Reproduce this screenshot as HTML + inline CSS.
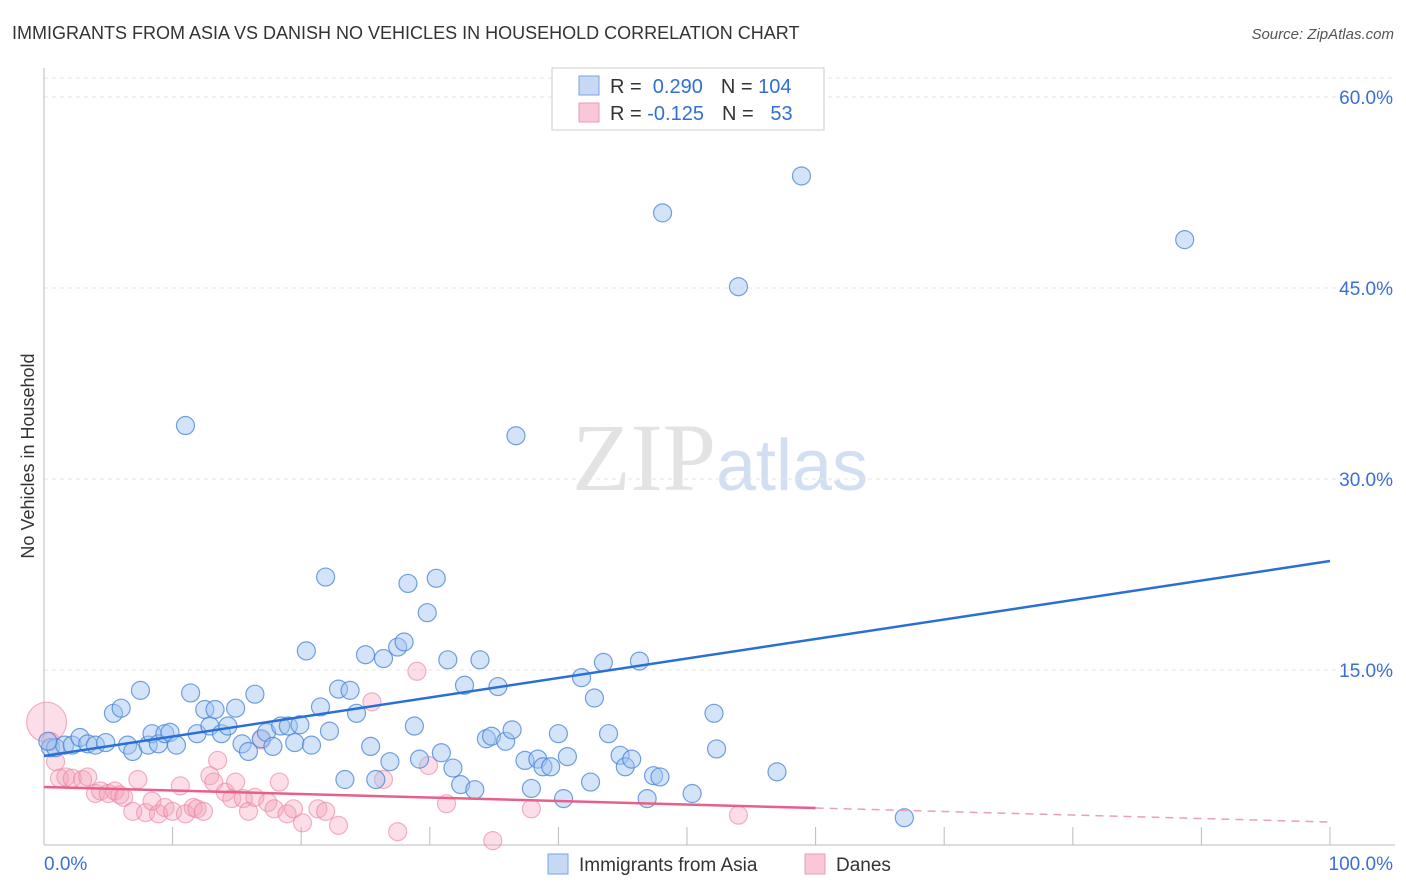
<!DOCTYPE html>
<html><head><meta charset="utf-8">
<style>
body{margin:0;background:#fff;font-family:"Liberation Sans",sans-serif;}
svg{display:block}
</style></head><body>
<svg id="chart" width="1406" height="892" xmlns="http://www.w3.org/2000/svg">
<text x="12" y="39" font-size="18" fill="#333">IMMIGRANTS FROM ASIA VS DANISH NO VEHICLES IN HOUSEHOLD CORRELATION CHART</text>
<text x="1394" y="39" font-size="15" fill="#555" font-style="italic" text-anchor="end">Source: ZipAtlas.com</text>
<text x="720" y="490" font-size="96" text-anchor="middle" font-family="Liberation Serif,serif" fill="#ddd" opacity="0.8">ZIP<tspan fill="#c8d8f0" font-family="Liberation Sans,sans-serif" font-size="72">atlas</tspan></text>
<text transform="translate(34,456) rotate(-90)" font-size="18" fill="#333" text-anchor="middle">No Vehicles in Household</text>
<g id="grid"></g>
<g id="marks"></g>
<g>
<rect x="552" y="68" width="272" height="62" fill="#fff" stroke="#ccc"/>
<rect x="579" y="76" width="20" height="19" fill="#c5d8f4" stroke="#7aa3e0"/>
<rect x="579" y="103" width="20" height="19" fill="#f9c8d6" stroke="#eb9ab3"/>
<text x="610" y="93" font-size="20" fill="#333">R = <tspan fill="#2f6fd6">&#160;0.290</tspan><tspan dx="18">N = </tspan><tspan fill="#2f6fd6">104</tspan></text>
<text x="610" y="120" font-size="20" fill="#333">R = <tspan fill="#2f6fd6">-0.125</tspan><tspan dx="18">N = </tspan><tspan fill="#2f6fd6">&#160;&#160;53</tspan></text>
</g>
<g>
<rect x="548" y="854" width="20" height="20" fill="#c5d8f4" stroke="#7aa3e0"/>
<text x="579" y="871" font-size="19" fill="#333">Immigrants from Asia</text>
<rect x="805" y="854" width="20" height="20" fill="#f9c8d6" stroke="#eb9ab3"/>
<text x="836" y="871" font-size="19" fill="#333">Danes</text>
</g>
</svg>
<script>
const yTicks=[15,30,45,60];
const xTickLabels=["0.0%","100.0%"];
const asiaX=[0.5,0.9,1.6,2.2,2.8,3.4,4.0,4.8,5.4,6.0,6.5,6.9,7.5,8.1,8.4,8.9,9.4,9.8,10.3,11.0,11.4,11.9,12.5,12.9,13.3,13.8,14.3,14.9,15.4,15.9,16.4,16.9,17.3,17.8,18.4,19.0,19.5,19.9,20.4,20.8,21.5,21.9,22.2,22.9,23.4,23.8,24.3,25.0,25.4,25.8,26.4,26.9,27.5,28.0,28.3,28.8,29.2,29.8,30.5,30.9,31.4,31.8,32.4,32.7,33.5,33.9,34.4,34.8,35.3,35.9,36.4,36.7,37.4,37.9,38.4,38.8,39.4,40.0,40.4,40.7,41.8,42.5,42.8,43.5,43.9,44.8,45.2,45.7,46.3,46.9,47.4,47.9,48.1,50.4,52.1,52.3,54.0,57.0,58.9,66.9,88.7,0.3];
const asiaY=[8.9,8.9,9.1,9.1,9.7,9.2,9.1,9.3,11.6,12.0,9.1,8.6,13.4,9.1,10.0,9.2,10.0,10.1,9.1,34.2,13.2,10.0,11.9,10.6,11.9,10.0,10.6,12.0,9.2,8.6,13.1,9.6,10.1,9.0,10.6,10.6,9.3,10.7,16.5,9.1,12.1,22.3,10.2,13.5,6.4,13.4,11.6,16.2,9.0,6.4,15.9,7.8,16.8,17.2,21.8,10.6,8.0,19.5,22.2,8.5,15.8,7.3,6.0,13.8,5.6,15.8,9.6,9.8,13.7,9.4,10.3,33.4,7.9,5.7,8.0,7.4,7.4,10.0,4.9,8.2,14.4,6.2,12.8,15.6,10.0,8.3,7.4,8.0,15.7,4.9,6.7,6.6,50.9,5.3,11.6,8.8,45.1,7.0,53.8,3.4,48.8,9.4];
const daneX=[0.2,0.5,0.9,1.2,1.7,2.2,3.0,3.4,4.0,4.4,5.0,5.5,5.9,6.2,6.9,7.3,7.9,8.4,8.9,9.4,10.0,10.6,11.0,11.6,11.9,12.4,12.9,13.2,13.5,14.1,14.6,14.9,15.5,15.9,16.4,16.9,17.4,17.9,18.3,18.9,19.4,20.1,21.3,21.9,22.9,25.5,26.4,27.5,29.0,29.9,31.3,34.9,37.9,54.0];
const daneY=[10.9,9.4,7.8,6.5,6.6,6.5,6.4,6.6,5.3,5.5,5.3,5.5,5.2,5.0,3.9,6.4,3.8,4.7,3.7,4.2,3.9,5.9,3.7,4.2,4.1,3.9,6.7,6.2,7.9,5.4,4.9,6.2,4.9,3.9,5.0,9.5,4.6,4.1,6.2,3.7,4.1,3.0,4.1,3.9,2.8,12.5,6.4,2.3,14.9,7.5,4.5,1.6,4.1,3.6];
const asiaTrend=[8.25,23.56];
const daneTrend=[5.81,3.06];
const NS="http://www.w3.org/2000/svg";
const X=v=>44+v*12.86, Y=v=>861-v*12.733;
function mk(tag,attrs,parent){const e=document.createElementNS(NS,tag);for(const k in attrs)e.setAttribute(k,attrs[k]);parent.appendChild(e);return e;}
const grid=document.getElementById('grid'), marks=document.getElementById('marks');
let e=mk('line',{x1:44,x2:1395,y1:78,y2:78,stroke:'#e4e4e4','stroke-dasharray':'4,4'},grid);


yTicks.forEach(t=>{
 let g=mk('line',{x1:44,x2:1395,y1:Y(t),y2:Y(t),stroke:'#e4e4e4','stroke-dasharray':'4,4'},grid);
 
 
 let l=mk('text',{x:1393,y:Y(t)+7,'font-size':19,fill:'#3b6fd4','text-anchor':'end'},grid);l.textContent=t.toFixed(1)+'%';
 
 
});
let ax=mk('line',{x1:44,x2:44,y1:68,y2:845,stroke:'#bbb'},grid);


let bx=mk('line',{x1:44,x2:1395,y1:845,y2:845,stroke:'#bbb'},grid);


for(let i=1;i<=10;i++){let t=mk('line',{x1:X(i*10),x2:X(i*10),y1:827,y2:845,stroke:'#bbb'},grid);
 
 }
xTickLabels.forEach((s,i)=>{let t=mk('text',{x:i?1393:44,y:870,'font-size':19,fill:'#3b6fd4','text-anchor':i?'end':'start'},grid);t.textContent=s;
 
 });
daneX.forEach((v,i)=>{let c=mk('circle',{cx:X(v),cy:Y(daneY[i]),r:i===0?20:9,fill:'rgba(244,160,185,0.35)',stroke:'rgba(235,130,160,0.6)','stroke-width':1.2},marks);
 
 });
asiaX.forEach((v,i)=>{let c=mk('circle',{cx:X(v),cy:Y(asiaY[i]),r:9,fill:'rgba(160,195,240,0.45)',stroke:'rgba(70,130,215,0.75)','stroke-width':1.2},marks);
 
 });
let bl=mk('line',{x1:X(0),y1:Y(asiaTrend[0]),x2:X(100),y2:Y(asiaTrend[1]),stroke:'#2a6fd6','stroke-width':2.5},marks);


const dm=v=>daneTrend[0]+(daneTrend[1]-daneTrend[0])*v/100;
let pl=mk('line',{x1:X(0),y1:Y(dm(0)),x2:X(60),y2:Y(dm(60)),stroke:'#e8608a','stroke-width':2.5},marks);


let pd=mk('line',{x1:X(60),y1:Y(dm(60)),x2:X(100),y2:Y(dm(100)),stroke:'#e8a0b8','stroke-width':1.5,'stroke-dasharray':'8,6'},marks);


</script>
</body></html>
